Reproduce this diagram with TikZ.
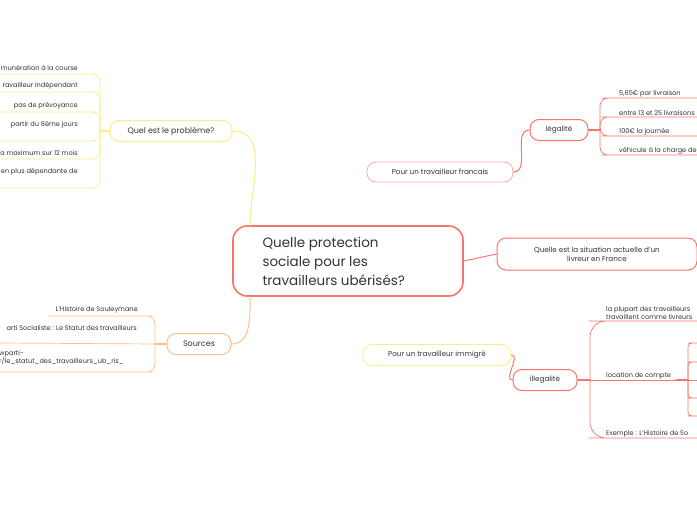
\documentclass[tikz,border=0pt]{standalone}
\usepackage{fontspec}
\setmainfont{Poppins}
\usetikzlibrary{positioning}
\definecolor{coral}{HTML}{F7766B}
\definecolor{lemon}{HTML}{FFEC85}
\definecolor{peach}{HTML}{FFC08A}
\definecolor{ink}{HTML}{333333}
\begin{document}
\begin{tikzpicture}[x=1pt,y=-1pt,
    line cap=round,line join=round,
    every node/.style={text=ink},
    topic/.style={draw,fill=white,rounded corners=9pt,line width=1pt,
      font=\fontsize{8}{10}\selectfont,inner sep=0pt},
    leaf/.style={font=\fontsize{6.6}{8}\selectfont,inner sep=1pt,align=left},
    link/.style={line width=1pt,rounded corners=9pt},
    twig/.style={line width=0.7pt,rounded corners=8pt}
  ]
  \useasboundingbox (0,0) rectangle (697,520);

  % centre
  \node (main) [draw=coral,line width=1.6pt,fill=white,rounded corners=14pt,
    minimum width=230pt,minimum height=70pt,inner sep=0pt] at (348,261) {};
  \node [anchor=west,align=left,font=\fontsize{13.5}{19}\selectfont,text=ink]
    at (259,261) {Quelle protection\\sociale pour les\\travailleurs ubérisés?};

  % problème
  \node (prob) [topic,draw=lemon,minimum width=122pt,minimum height=21pt] at (171,131) {Quel est le problème?};
  \draw [lemon,link] (250,226) to[out=90,in=0] (prob.east);
  \coordinate (pb) at (100,131);
  \draw [lemon,line width=1.4pt] (prob.west) -- (pb);
  \foreach \yu/\yt/\t in {74/68/munération à la course,92/86/ravailleur indépendant,
      112/106/pas de prévoyance,141/125/partir du 8ème jours,
      159/153/a maximum sur 12 mois,188/172/en plus dépendante de}{
    \node [leaf,anchor=east] at (79,\yt) {\t};
    \draw [lemon,twig] (0,\yu) -- (88,\yu) -| (pb);
  }

  % sources
  \node (src) [topic,draw=peach,minimum width=64pt,minimum height=21pt] at (199,344) {Sources};
  \draw [peach,link] (250,296) to[out=-90,in=0] (src.east);
  \coordinate (sb) at (155,344);
  \draw [peach,line width=1.4pt] (src.west) -- (sb);
  \node [leaf,anchor=east] at (139,310) {L'Histoire de Souleymane};
  \node [leaf,anchor=east] at (138,328) {arti Socialiste : Le Statut des travailleurs};
  \node [leaf,anchor=west,align=left] at (-2,358) {wparti-\\r/le\_statut\_des\_travailleurs\_ub\_ris\_};
  \draw [peach,twig] (48,316) -- (145,316) -| (sb);
  \draw [peach,twig] (0,343) -- (sb);
  \draw [peach,twig] (0,372) -- (145,372) -| (sb);

  % situation
  \node (sit) [topic,draw=coral,minimum width=200pt,minimum height=32pt,align=center,
    font=\fontsize{7.2}{9}\selectfont] at (597,254) {Quelle est la situation actuelle d'un\\livreur en France};
  \draw [coral,link] (main.east) -- (sit.west);

  % légalité
  \node (fr) [topic,draw=coral!60,line width=0.8pt,minimum width=146pt,minimum height=20pt,
    font=\fontsize{7.2}{9}\selectfont] at (440,172) {Pour un travailleur francais};
  \node (leg) [topic,draw=coral,minimum width=58pt,minimum height=21pt,
    font=\fontsize{7.2}{9}\selectfont] at (559,130) {légalité};
  \draw [coral,link] (fr.east) to[out=0,in=180] (leg.west);
  \coordinate (lb) at (600,130);
  \draw [coral,line width=1.4pt] (leg.east) -- (lb);
  \foreach \yu/\t in {98/{5,65€ par livraison},117/entre 13 et 25 livraisons,
      136/100€ la journée,155/véhicule à la charge de}{
    \node [leaf,anchor=south west] at (618,\yu) {\t};
    \draw [coral,twig] (697,\yu) -- (610,\yu) -| (lb);
  }

  % illégalité
  \node (imm) [topic,draw=lemon,line width=0.8pt,minimum width=148pt,minimum height=21pt,
    font=\fontsize{7.2}{9}\selectfont] at (437,355) {Pour un travailleur immigré};
  \node (ill) [topic,draw=coral,minimum width=64pt,minimum height=21pt,
    font=\fontsize{7.2}{9}\selectfont] at (545,380) {illegalité};
  \draw [coral,link] (imm.east) to[out=0,in=180] (ill.west);
  \coordinate (ib) at (590,380);
  \draw [coral,line width=1.4pt] (ill.east) -- (ib);
  \node [leaf,anchor=south west] at (605,321) {la plupart des travailleurs\\travaillent comme livreurs};
  \node [leaf,anchor=south west] at (605,380) {location de compte};
  \node [leaf,anchor=south west] at (605,438) {Exemple : L'Histoire de So};
  \draw [coral,twig,rounded corners=16pt] (697,321) -- (605,321) -| (ib);
  \draw [coral,twig,rounded corners=16pt] (697,438) -- (605,438) -| (ib);
  \coordinate (cb) at (688,380);
  \draw [coral,twig] (ib) -- (676,380);
  \draw [coral,line width=1.4pt] (676,380) -- (cb);
  \foreach \yy in {343,362,398,416}{
    \draw [coral,twig,rounded corners=4pt] (697,\yy) -- (692,\yy) -| (cb);
  }
  \draw [coral,twig] (cb) -- (697,380);
\end{tikzpicture}
\end{document}
